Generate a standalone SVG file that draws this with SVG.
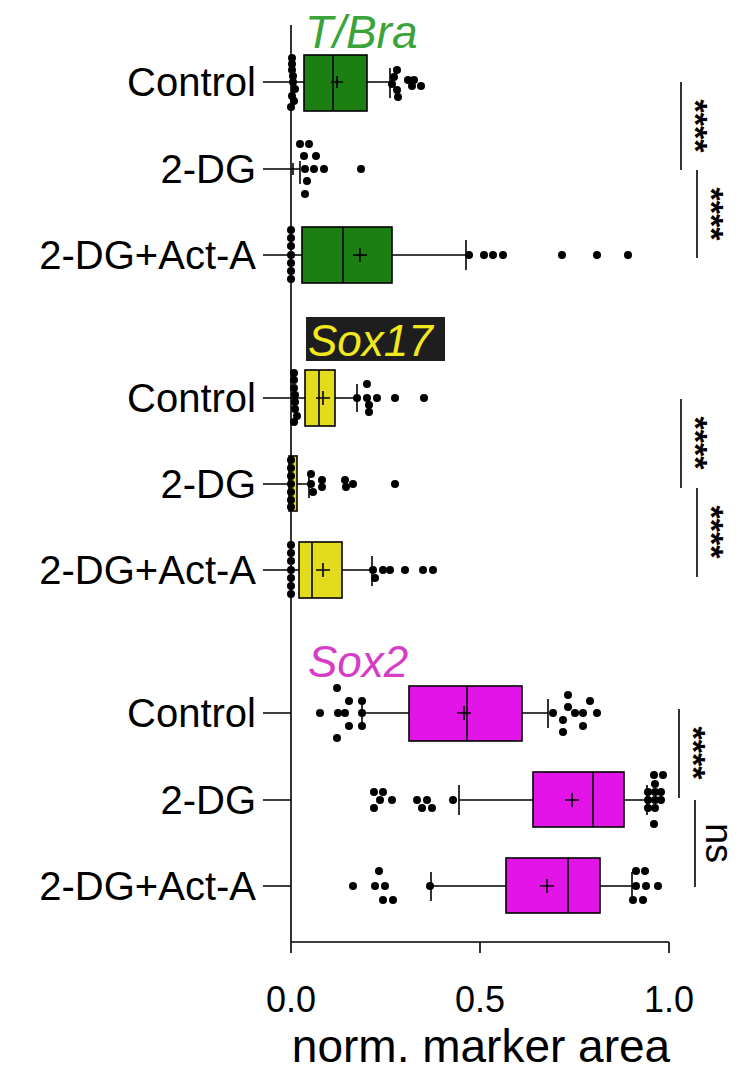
<svg xmlns="http://www.w3.org/2000/svg" width="748" height="1070" viewBox="0 0 748 1070">
<style>
text{font-family:"Liberation Sans",Arial,sans-serif;fill:#000}
.cat{font-size:40px;text-anchor:end}
.tick{font-size:36px;text-anchor:middle}
.ln{stroke:#000;stroke-width:1.6;fill:none}
.g{fill:#1b7f12;stroke:#000;stroke-width:1.6}
.y{fill:#e2dc1c;stroke:#000;stroke-width:1.6}
.m{fill:#e314e8;stroke:#000;stroke-width:1.6}
.d circle{fill:#000;r:4px}
.st{font-size:34px;font-weight:bold;text-anchor:middle}
</style>
<rect width="748" height="1070" fill="#fff"/>
<g id="axes">
<path class="ln" d="M291 25V942M291 942H669M291 942v11M480 942v11M669 942v11"/>
<path class="ln" d="M263 82H291M263 169H291M263 255H291M263 398H291M263 484H291M263 570H291M263 713H291M263 800H291M263 886H291"/>
<text class="tick" x="291" y="1012">0.0</text>
<text class="tick" x="480" y="1012">0.5</text>
<text class="tick" x="669" y="1012">1.0</text>
<text x="481" y="1062" style="font-size:46px;text-anchor:middle">norm. marker area</text>
</g>
<g id="labels">
<text class="cat" x="256" y="96">Control</text>
<text class="cat" x="256" y="183">2-DG</text>
<text class="cat" x="256" y="269">2-DG+Act-A</text>
<text class="cat" x="256" y="412">Control</text>
<text class="cat" x="256" y="498">2-DG</text>
<text class="cat" x="256" y="584">2-DG+Act-A</text>
<text class="cat" x="256" y="727">Control</text>
<text class="cat" x="256" y="814">2-DG</text>
<text class="cat" x="256" y="900">2-DG+Act-A</text>
</g>
<g id="tbra">
<text x="305" y="48" style="font-size:46px;font-style:italic;fill:#3aa33a">T/Bra</text>
<path class="ln" d="M291 82H304M367 82H390M390 68V98"/>
<rect class="g" x="304" y="55" width="63" height="56"/>
<path class="ln" d="M333 55V111M331 82h12M337 76v12"/>
<g class="d"><circle cx="292" cy="58"/><circle cx="292" cy="64"/><circle cx="292" cy="70"/><circle cx="293" cy="76"/><circle cx="293" cy="82"/><circle cx="295" cy="89"/><circle cx="292" cy="96"/><circle cx="294" cy="101"/><circle cx="291" cy="107"/>
<circle cx="397" cy="70"/><circle cx="394" cy="77"/><circle cx="392" cy="84"/><circle cx="397" cy="90"/><circle cx="398" cy="97"/><circle cx="408" cy="80"/><circle cx="414" cy="80"/><circle cx="412" cy="86"/><circle cx="421" cy="86"/></g>
<path class="ln" d="M291 169H300M293 163V175M300 161V184"/>
<g class="d"><circle cx="300" cy="144"/><circle cx="309" cy="144"/><circle cx="304" cy="156"/><circle cx="316" cy="156"/><circle cx="305" cy="169"/><circle cx="314" cy="169"/><circle cx="324" cy="169"/><circle cx="361" cy="169"/><circle cx="307" cy="181"/><circle cx="305" cy="194"/></g>
<path class="ln" d="M291 255H302M392 255H466M466 240V270"/>
<rect class="g" x="302" y="227" width="90" height="56"/>
<path class="ln" d="M343 227V283M353 255h14M360 248v14"/>
<g class="d"><circle cx="291" cy="230"/><circle cx="291" cy="238"/><circle cx="291" cy="246"/><circle cx="291" cy="255"/><circle cx="291" cy="263"/><circle cx="291" cy="271"/><circle cx="291" cy="279"/>
<circle cx="469" cy="255"/><circle cx="484" cy="255"/><circle cx="493" cy="255"/><circle cx="503" cy="255"/><circle cx="562" cy="255"/><circle cx="597" cy="255"/><circle cx="628" cy="255"/></g>
</g>
<g id="sox17">
<rect x="306" y="317" width="139" height="44" fill="#1e1e1e"/>
<text x="308" y="356" style="font-size:44px;font-style:italic;fill:#f2e81e">Sox17</text>
<path class="ln" d="M291 398H305M335 398H357M357 384V412"/>
<rect class="y" x="305" y="370" width="30" height="56"/>
<path class="ln" d="M319 370V426M316 398h14M323 391v14"/>
<g class="d"><circle cx="294" cy="373"/><circle cx="294" cy="380"/><circle cx="294" cy="388"/><circle cx="295" cy="395"/><circle cx="295" cy="402"/><circle cx="295" cy="409"/><circle cx="297" cy="416"/><circle cx="294" cy="422"/>
<circle cx="357" cy="398"/><circle cx="367" cy="384"/><circle cx="367" cy="398"/><circle cx="369" cy="405"/><circle cx="369" cy="412"/><circle cx="377" cy="398"/><circle cx="395" cy="398"/><circle cx="424" cy="398"/></g>
<rect class="y" x="289" y="456" width="8" height="55"/>
<path class="ln" d="M297 484H309M309 474V498"/>
<g class="d"><circle cx="291" cy="460"/><circle cx="291" cy="468"/><circle cx="291" cy="476"/><circle cx="291" cy="484"/><circle cx="291" cy="492"/><circle cx="291" cy="500"/><circle cx="291" cy="507"/><circle cx="311" cy="474"/><circle cx="311" cy="484"/><circle cx="313" cy="492"/><circle cx="322" cy="480"/><circle cx="322" cy="487"/><circle cx="345" cy="480"/><circle cx="346" cy="487"/><circle cx="353" cy="484"/><circle cx="395" cy="484"/></g>
<path class="ln" d="M291 570H299M342 570H372M372 556V586"/>
<rect class="y" x="299" y="542" width="43" height="56"/>
<path class="ln" d="M312 542V598M316 570h14M323 563v14"/>
<g class="d"><circle cx="291" cy="545"/><circle cx="291" cy="553"/><circle cx="291" cy="561"/><circle cx="291" cy="570"/><circle cx="291" cy="578"/><circle cx="291" cy="586"/><circle cx="291" cy="594"/>
<circle cx="373" cy="570"/><circle cx="375" cy="578"/><circle cx="383" cy="570"/><circle cx="390" cy="570"/><circle cx="405" cy="570"/><circle cx="423" cy="570"/><circle cx="433" cy="570"/></g>
</g>
<g id="sox2">
<text x="308" y="677" style="font-size:44px;font-style:italic;fill:#d63cc8">Sox2</text>
<path class="ln" d="M362 713H409M522 713H548M548 699V728M362 700V727"/>
<rect class="m" x="409" y="686" width="113" height="55"/>
<path class="ln" d="M467 686V741M457 713h14M464 706v14"/>
<g class="d"><circle cx="320" cy="713"/><circle cx="337" cy="688"/><circle cx="337" cy="738"/><circle cx="338" cy="713"/><circle cx="345" cy="713"/><circle cx="349" cy="701"/><circle cx="349" cy="726"/><circle cx="362" cy="701"/><circle cx="362" cy="713"/><circle cx="362" cy="726"/>
<circle cx="553" cy="713"/><circle cx="568" cy="695"/><circle cx="568" cy="707"/><circle cx="563" cy="720"/><circle cx="575" cy="713"/><circle cx="583" cy="713"/><circle cx="590" cy="701"/><circle cx="597" cy="713"/><circle cx="563" cy="732"/><circle cx="583" cy="726"/></g>
<path class="ln" d="M459 800H533M624 800H647M459 785V815M647 785V815"/>
<rect class="m" x="533" y="772" width="91" height="55"/>
<path class="ln" d="M593 772V827M565 800h14M572 793v14"/>
<g class="d"><circle cx="374" cy="792"/><circle cx="383" cy="792"/><circle cx="380" cy="800"/><circle cx="392" cy="800"/><circle cx="374" cy="808"/><circle cx="417" cy="800"/><circle cx="427" cy="800"/><circle cx="422" cy="808"/><circle cx="432" cy="808"/><circle cx="453" cy="800"/>
<circle cx="654" cy="775"/><circle cx="663" cy="775"/><circle cx="655" cy="784"/><circle cx="648" cy="792"/><circle cx="655" cy="792"/><circle cx="661" cy="792"/><circle cx="648" cy="800"/><circle cx="655" cy="800"/><circle cx="661" cy="800"/><circle cx="648" cy="808"/><circle cx="655" cy="808"/><circle cx="654" cy="824"/></g>
<path class="ln" d="M431 886H506M600 886H632M431 872V901M632 872V901"/>
<rect class="m" x="506" y="858" width="94" height="55"/>
<path class="ln" d="M568 858V913M540 886h14M547 879v14"/>
<g class="d"><circle cx="353" cy="886"/><circle cx="379" cy="871"/><circle cx="375" cy="886"/><circle cx="385" cy="886"/><circle cx="383" cy="900"/><circle cx="393" cy="900"/><circle cx="430" cy="886"/>
<circle cx="636" cy="871"/><circle cx="645" cy="871"/><circle cx="636" cy="886"/><circle cx="646" cy="886"/><circle cx="658" cy="886"/><circle cx="633" cy="900"/><circle cx="643" cy="900"/></g>
</g>
<g id="connectors">
<path class="ln" d="M681 82V170M697 170V258M681 399V488M697 488V577M679 709V798M695 800V887"/>
<text class="st" transform="translate(684 126) rotate(90)">****</text>
<text class="st" transform="translate(700 214) rotate(90)">****</text>
<text class="st" transform="translate(684 443) rotate(90)">****</text>
<text class="st" transform="translate(700 532) rotate(90)">****</text>
<text class="st" transform="translate(682 753) rotate(90)">****</text>
<text transform="translate(706 843) rotate(90)" style="font-size:38px;text-anchor:middle">ns</text>
</g>
</svg>
